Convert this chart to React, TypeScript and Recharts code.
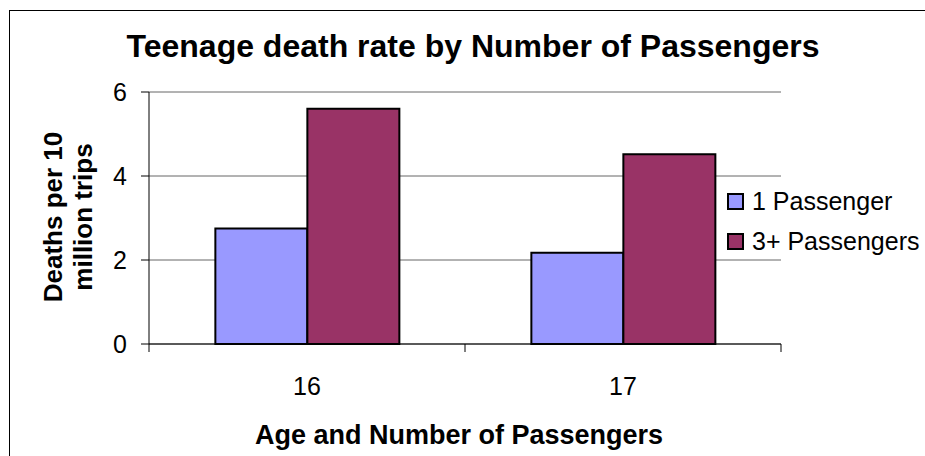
import React from "react";
import { BarChart, Bar, XAxis, YAxis, CartesianGrid, Legend } from "recharts";

const ages = ["16", "17"];
const onePassenger = [2.75, 2.17];
const threePlusPassengers = [5.6, 4.52];
const yTicks = [0, 2, 4, 6];
const seriesNames = ["1 Passenger", "3+ Passengers"];
const seriesColors = ["#9999FF", "#993366"];

const data = ages.map((age, i) => ({
  age,
  one: onePassenger[i],
  threePlus: threePlusPassengers[i],
}));

const FONT = "'Liberation Sans', Arial, sans-serif";

// ticks sit on the category boundaries, like Excel does
function AgeTick(props: any) {
  const { x, y, payload, index, visibleTicksCount } = props;
  const half = payload?.offset ?? 0;
  return (
    <g>
      <line x1={x - half} x2={x - half} y1={y} y2={y + 8} stroke="#000" />
      {index === visibleTicksCount - 1 && (
        <line x1={x + half} x2={x + half} y1={y} y2={y + 8} stroke="#000" />
      )}
      <text x={x} y={y + 51} textAnchor="middle" fontSize={25} fontFamily={FONT} fill="#000">
        {payload.value}
      </text>
    </g>
  );
}

function XTitle(props: any) {
  const { viewBox } = props;
  return (
    <text
      x={viewBox.x + viewBox.width / 2 - 6}
      y={444}
      textAnchor="middle"
      fontSize={27}
      fontWeight="bold"
      fontFamily={FONT}
      fill="#000"
    >
      Age and Number of Passengers
    </text>
  );
}

function YTitle() {
  return (
    <text transform="rotate(-90)" textAnchor="middle" fontSize={26} fontWeight="bold" fontFamily={FONT} fill="#000">
      <tspan x={-217} y={62}>Deaths per 10</tspan>
      <tspan x={-217} y={92}>million trips</tspan>
    </text>
  );
}

function LegendBox() {
  return (
    <div style={{ fontFamily: FONT, fontSize: 25, color: "#000" }}>
      {seriesNames.map((name, i) => (
        <div key={name} style={{ display: "flex", alignItems: "center", height: 40, whiteSpace: "nowrap" }}>
          <span
            style={{
              display: "inline-block",
              width: 17,
              height: 17,
              boxSizing: "border-box",
              border: "2px solid #000",
              background: seriesColors[i],
              marginRight: 8,
            }}
          />
          {name}
        </div>
      ))}
    </div>
  );
}

export default function App() {
  return (
    <div
      style={{
        position: "absolute",
        left: 0,
        top: 0,
        width: 925,
        height: 456,
        overflow: "hidden",
        background: "#fff",
        fontFamily: FONT,
      }}
    >
      <div
        style={{
          position: "absolute",
          left: 9,
          top: 10,
          right: -2,
          bottom: -2,
          borderLeft: "1px solid #000",
          borderTop: "1px solid #000",
        }}
      />
      <div
        style={{
          position: "absolute",
          left: 0,
          width: 946,
          top: 30,
          textAlign: "center",
          fontSize: 32,
          lineHeight: "32px",
          fontWeight: "bold",
          color: "#000",
        }}
      >
        Teenage death rate by Number of Passengers
      </div>
      <BarChart
        width={925}
        height={456}
        data={data}
        margin={{ top: 92, right: 144, bottom: 82, left: 89 }}
        barCategoryGap="21%"
        barGap={0}
      >
        <CartesianGrid vertical={false} stroke="#666" />
        <XAxis
          dataKey="age"
          axisLine={{ stroke: "#000" }}
          tickLine={false}
          tickSize={0}
          tickMargin={0}
          tick={<AgeTick />}
          height={30}
          label={<XTitle />}
          interval={0}
        />
        <YAxis
          domain={[0, 6]}
          ticks={yTicks}
          width={60}
          axisLine={{ stroke: "#000" }}
          tickLine={{ stroke: "#000" }}
          tickSize={8}
          tickMargin={14}
          tick={{ fontSize: 25, fill: "#000", fontFamily: FONT }}
          label={<YTitle />}
        />
        <Legend
          layout="vertical"
          align="center"
          verticalAlign="middle"
          wrapperStyle={{ left: 727, top: 181, width: 200 }}
          content={<LegendBox />}
        />
        <Bar
          dataKey="one"
          name={seriesNames[0]}
          fill={seriesColors[0]}
          stroke="#000"
          strokeWidth={2}
          isAnimationActive={false}
        />
        <Bar
          dataKey="threePlus"
          name={seriesNames[1]}
          fill={seriesColors[1]}
          stroke="#000"
          strokeWidth={2}
          isAnimationActive={false}
        />
      </BarChart>
    </div>
  );
}
